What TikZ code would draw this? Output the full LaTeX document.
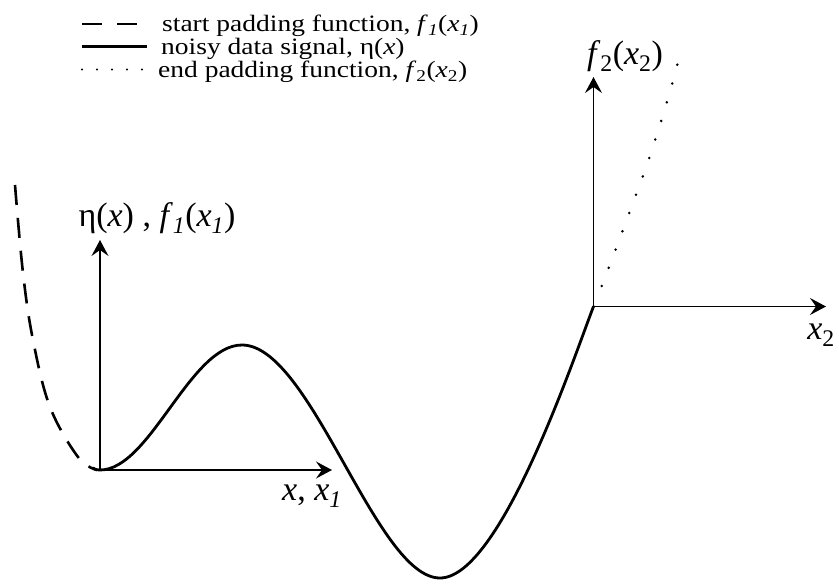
\documentclass[tikz,border=0pt]{standalone}
\usepackage{fontspec}
\setmainfont{Liberation Serif}
\newfontfamily\legfont[FakeStretch=1.17]{Liberation Serif}
\usetikzlibrary{arrows.meta}
\begin{document}
\begin{tikzpicture}[x=1pt,y=-1pt,
  axis/.style={line width=1.2pt,-{Stealth[length=16pt,width=17pt,inset=6pt]}},
  signal/.style={line width=2.8pt,line join=round,line cap=round},
  startpad/.style={line width=2.6pt,dash pattern=on 20pt off 13pt},
  endpad/.style={line width=2.8pt,line cap=round,dash pattern=on 0pt off 19.5pt},
  leg/.style={anchor=base west,inner sep=0pt,font=\legfont\fontsize{23.5}{26}\selectfont},
  biglab/.style={inner sep=0pt,font=\fontsize{34}{38}\selectfont}]
\useasboundingbox (0,0) rectangle (839,584);
% coordinates
\coordinate (O1) at (100,470);
\coordinate (Y1) at (100,240);
\coordinate (X1) at (332,470);
\coordinate (O2) at (593.5,306.5);
\coordinate (Y2) at (593.5,77);
\coordinate (X2) at (826,306.5);
% axes
\draw[axis] (O1) -- (Y1);
\draw[axis] (O1) -- (X1);
\draw[axis] (O2) -- (Y2);
\draw[axis] (O2) -- (X2);
% start padding (dashed)
\draw[startpad] plot[smooth,tension=0.6] coordinates {(15,185) (23,273) (33,340) (50,407) (78,457) (97,470)};
% signal
\draw[signal] (93,468) .. controls (96,470) and (98,470) .. (100,470)
  .. controls (150,470) and (190,345) .. (242,345)
  .. controls (311,345) and (376,578) .. (440,578)
  .. controls (500,578) and (573.5,358.5) .. (O2);
% end padding (dotted)
\draw[endpad] plot[smooth,tension=0.6] coordinates {(601.7,286) (615.7,249.3) (629.3,212.7) (643,176) (655.7,138.3) (667.3,100.7) (677.7,63.3)};
% labels
\node[biglab] (l1) at (157,218) {η(\textit{x}) , \textit{f}\textsubscript{\textit{1}}(\textit{x}\textsubscript{\textit{1}})};
\node[biglab] (l2) at (312,496) {\textit{x}, \textit{x}\textsubscript{\textit{1}}};
\node[biglab] (l3) at (625,56) {\textit{f}\textsubscript{2}(\textit{x}\textsubscript{2})};
\node[biglab] (l4) at (821,335) {\textit{x}\textsubscript{2}};
% legend
\draw[line width=2.8pt,dash pattern=on 20pt off 15pt] (82,24) -- (137,24);
\draw[line width=2.8pt] (82,46.5) -- (147,46.5);
\draw[line width=2.4pt,line cap=round,dash pattern=on 0pt off 15pt] (82,69.5) -- (143,69.5);
\node[leg] (t1) at (162,31.5) {start padding function, \textit{f}\textsubscript{\textit{1}}(\textit{x}\textsubscript{\textit{1}})};
\node[leg] (t2) at (161,54.5) {noisy data signal, η(\textit{x})};
\node[leg] (t3) at (158,77.5) {end padding function, \textit{f}\textsubscript{2}(\textit{x}\textsubscript{2})};
\end{tikzpicture}
\end{document}
